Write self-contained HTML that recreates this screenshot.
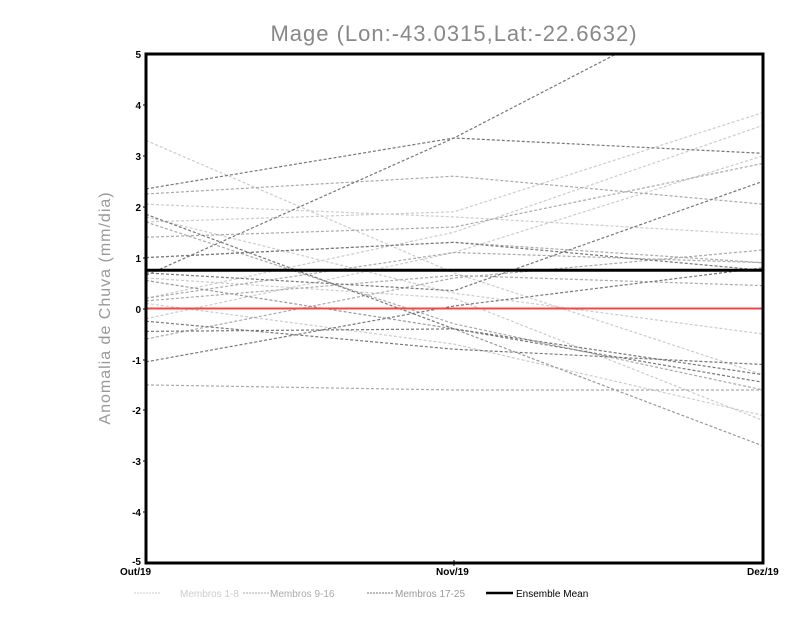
<!DOCTYPE html>
<html><head><meta charset="utf-8"><style>body{margin:0;background:#fff}</style></head><body>
<svg width="800" height="618" xmlns="http://www.w3.org/2000/svg" font-family="Liberation Sans, sans-serif">
<rect width="800" height="618" fill="#fff"/>
<text x="454" y="41" text-anchor="middle" font-size="22" fill="#888" letter-spacing="1">Mage (Lon:-43.0315,Lat:-22.6632)</text>
<text transform="translate(110,308) rotate(-90)" text-anchor="middle" font-size="16" fill="#999" letter-spacing="1">Anomalia de Chuva (mm/dia)</text>
<defs><clipPath id="c"><rect x="146" y="54" width="617" height="509"/></clipPath></defs>
<g clip-path="url(#c)" fill="none" stroke-dasharray="3,2" stroke-width="1.2">
<g id="L" stroke="#c8c8c8"></g>
</g>
<g clip-path="url(#c)" fill="none" stroke-dasharray="3,2" stroke-width="1.2">
<polyline stroke="#ccc" points="146,140.5 454,272.9 763,374.7"/>
<polyline stroke="#ccc" points="146,204.2 454,216.9 763,234.7"/>
<polyline stroke="#ccc" points="146,222 454,211.8 763,112.5"/>
<polyline stroke="#ccc" points="146,298.3 454,232.2 763,125.3"/>
<polyline stroke="#ccc" points="146,318.7 454,252.5 763,155.8"/>
<polyline stroke="#ccc" points="146,278 454,298.3 763,420.5"/>
<polyline stroke="#ccc" points="146,216.9 454,293.2 763,334"/>
<polyline stroke="#ccc" points="146,303.4 454,344.1 763,415.4"/>
<polyline stroke="#aaa" points="146,194 454,176.2 763,204.2"/>
<polyline stroke="#aaa" points="146,237.2 454,227.1 763,163.4"/>
<polyline stroke="#aaa" points="146,222 454,323.8 763,390"/>
<polyline stroke="#aaa" points="146,300.9 454,275.4 763,285.6"/>
<polyline stroke="#aaa" points="146,384.9 454,390 763,390"/>
<polyline stroke="#aaa" points="146,339 454,278 763,250"/>
<polyline stroke="#aaa" points="146,298.3 454,252.5 763,262.7"/>
<polyline stroke="#aaa" points="146,257.6 454,242.3 763,262.7"/>
<polyline stroke="#777" points="146,275.4 454,138 763,-22"/>
<polyline stroke="#777" points="146,188.9 454,138 763,153.3"/>
<polyline stroke="#777" points="146,272.9 454,290.7 763,181.3"/>
<polyline stroke="#777" points="146,214.3 454,328.9 763,374.7"/>
<polyline stroke="#777" points="146,361.9 454,306 763,267.8"/>
<polyline stroke="#777" points="146,321.2 454,349.2 763,364.5"/>
<polyline stroke="#777" points="146,257.6 454,242.3 763,270.3"/>
<polyline stroke="#999" points="146,280.5 454,328.9 763,445.9"/>
<polyline stroke="#777" points="146,331.4 454,328.9 763,382.3"/>
</g>
<line x1="146" y1="308.5" x2="763" y2="308.5" stroke="#f04848" stroke-width="2"/>
<line x1="146" y1="270.3" x2="763" y2="270.3" stroke="#000" stroke-width="3"/>
<rect x="146" y="54" width="617" height="509" fill="none" stroke="#000" stroke-width="3"/>
<g font-size="10" font-weight="bold" text-anchor="end" fill="#000">
<text x="141" y="58">5</text><text x="141" y="109">4</text><text x="141" y="160">3</text><text x="141" y="211">2</text><text x="141" y="262">1</text><text x="141" y="313">0</text><text x="141" y="364">-1</text><text x="141" y="414">-2</text><text x="141" y="465">-3</text><text x="141" y="516">-4</text><text x="141" y="565">-5</text>
</g>
<g stroke="#000" stroke-width="1"><line x1="143" y1="105" x2="146" y2="105"/><line x1="143" y1="156" x2="146" y2="156"/><line x1="143" y1="207" x2="146" y2="207"/><line x1="143" y1="258" x2="146" y2="258"/><line x1="143" y1="309" x2="146" y2="309"/><line x1="143" y1="360" x2="146" y2="360"/><line x1="143" y1="410" x2="146" y2="410"/><line x1="143" y1="461" x2="146" y2="461"/><line x1="143" y1="512" x2="146" y2="512"/><line x1="454" y1="560" x2="454" y2="566"/></g>
<g font-size="10" font-weight="bold" fill="#000">
<text x="120" y="575">Out/19</text><text x="436" y="575">Nov/19</text><text x="747" y="575">Dez/19</text>
</g>
<g font-size="10" fill="#000">
<line x1="134" y1="593" x2="160" y2="593" stroke="#ccc" stroke-dasharray="2,1"/><text x="180" y="597" fill="#ccc">Membros 1-8</text>
<line x1="243" y1="593" x2="269" y2="593" stroke="#aaa" stroke-dasharray="2,1"/><text x="270" y="597" fill="#aaa">Membros 9-16</text>
<line x1="367" y1="593" x2="393" y2="593" stroke="#777" stroke-dasharray="2,1"/><text x="395" y="597" fill="#999">Membros 17-25</text>
<line x1="486" y1="593" x2="513" y2="593" stroke="#000" stroke-width="2.5"/><text x="516" y="597">Ensemble Mean</text>
</g>
</svg>
</body></html>
